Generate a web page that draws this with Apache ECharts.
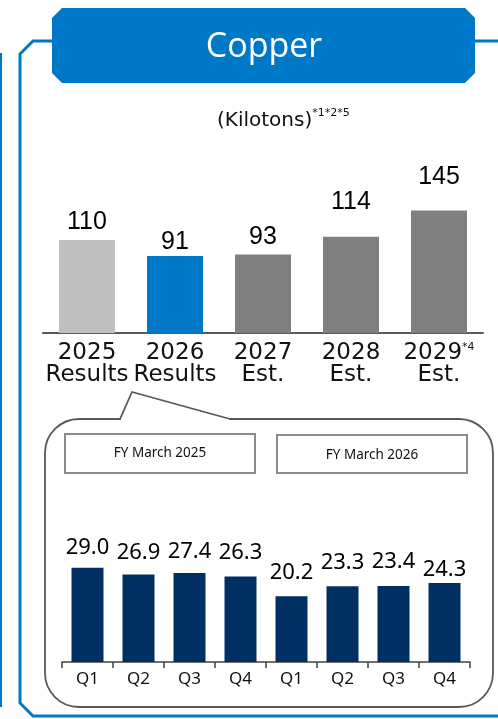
<!DOCTYPE html>
<html>
<head>
<meta charset="utf-8">
<script src="https://cdn.jsdelivr.net/npm/echarts@6/dist/echarts.min.js"></script>
<style>html,body{margin:0;padding:0;background:#fff}#c{width:498px;height:719px}</style>
</head>
<body>
<div id="c"></div>
<script>
// ---- data ----
const annualYears = ['2025', '2026', '2027', '2028', '2029'];
const annualSub = ['Results', 'Results', 'Est.', 'Est.', 'Est.'];
const annualNote = ['', '', '', '', '*4'];
const annualValues = [110, 91, 93, 114, 145];
const quarterLabels = ['Q1', 'Q2', 'Q3', 'Q4', 'Q1', 'Q2', 'Q3', 'Q4'];
const quarterValues = [29.0, 26.9, 27.4, 26.3, 20.2, 23.3, 23.4, 24.3];
const fyLabels = ['FY March 2025', 'FY March 2026'];
const titleText = 'Copper';
const unitText = '(Kilotons)';
const unitNote = '*1*2*5';

// ---- styles ----
const BLUE = '#0078C8';
const annualColors = ['#BFBFBF', '#0078C8', '#808080', '#808080', '#808080'];
const annualGap = [5, 1, 5, 22, 21];
const quarterGap = [9, 11, 10, 13, 13, 13, 13, 2];
const NAVY = '#002F63';

const chart = echarts.init(document.getElementById('c'), null, {renderer: 'canvas'});

const annualCats = annualYears.map((y, i) =>
  '{a|' + y + '}' + (annualNote[i] ? '{s|' + annualNote[i] + '}' : '') + '\n{a|' + annualSub[i] + '}');

const option = {
  animation: false,
  backgroundColor: '#fff',
  grid: [
    {left: 43, width: 440, top: 164, height: 169, outerBoundsMode: 'none'},
    {left: 62, width: 408, top: 532, height: 130, outerBoundsMode: 'none'}
  ],
  xAxis: [
    {
      gridIndex: 0, type: 'category', data: annualCats, z: 4,
      axisLine: {lineStyle: {color: '#595959', width: 2}},
      axisTick: {show: false},
      axisLabel: {
        interval: 0, margin: 9, color: '#111',
        rich: {
          a: {fontFamily: 'DejaVu Sans', fontSize: 23, lineHeight: 22, color: '#111'},
          s: {fontFamily: 'DejaVu Sans', fontSize: 11, lineHeight: 22, verticalAlign: 'top', padding: [0, 0, 12, 0], color: '#111'}
        }
      }
    },
    {
      gridIndex: 1, type: 'category', data: quarterLabels, z: 4,
      axisLine: {lineStyle: {color: '#404040', width: 1.5}},
      axisTick: {show: true, length: 6, lineStyle: {color: '#404040', width: 1.5}},
      axisLabel: {interval: 0, margin: 9, fontFamily: 'Noto Sans', fontSize: 17, color: '#111'}
    }
  ],
  yAxis: [
    {gridIndex: 0, type: 'value', min: 0, max: 200, show: false, splitLine: {show: false}},
    {gridIndex: 1, type: 'value', min: 0, max: 40, show: false, splitLine: {show: false}}
  ],
  series: [
    {
      type: 'bar', xAxisIndex: 0, yAxisIndex: 0, barWidth: 56, z: 5,
      data: annualValues.map((v, i) => ({
        value: v, itemStyle: {color: annualColors[i]},
        label: {distance: annualGap[i]}
      })),
      label: {show: true, position: 'top', fontFamily: 'Liberation Sans', fontSize: 25, color: '#000'}
    },
    {
      type: 'bar', xAxisIndex: 1, yAxisIndex: 1, barWidth: 32, z: 5,
      itemStyle: {color: NAVY},
      data: quarterValues.map((v, i) => ({
        value: v, label: {distance: quarterGap[i]}
      })),
      label: {show: true, position: 'top', fontFamily: 'Noto Sans', fontSize: 22, color: '#000',
        formatter: p => p.value.toFixed(1)}
    }
  ],
  graphic: [
    // far-left edge line
    {type: 'line', z: 1, shape: {x1: 1, y1: 53, x2: 1, y2: 707}, style: {stroke: BLUE, lineWidth: 2}},
    // frame
    {type: 'polyline', z: 1, shape: {points: [[53, 41], [33, 41], [20, 54], [20, 703], [33, 716], [498, 716]]},
      style: {stroke: BLUE, lineWidth: 3, fill: null}},
    {type: 'line', z: 1, shape: {x1: 474, y1: 41, x2: 498, y2: 41}, style: {stroke: BLUE, lineWidth: 3}},
    // header
    {type: 'polygon', z: 2, shape: {points: [[62, 8], [465, 8], [475, 18], [475, 73], [465, 83], [62, 83], [52, 73], [52, 18]]},
      style: {fill: BLUE}},
    {type: 'text', z: 3, x: 264, y: 47, style: {text: titleText, fill: '#fff', font: '34px "Open Sans"', textAlign: 'center', textVerticalAlign: 'middle'}},
    // unit
    {type: 'text', z: 3, x: 217, y: 121, style: {
      text: '{m|' + unitText + '}{s|' + unitNote + '}', textVerticalAlign: 'middle',
      rich: {
        m: {fontFamily: 'DejaVu Sans', fontSize: 20, fill: '#111', lineHeight: 24},
        s: {fontFamily: 'DejaVu Sans', fontSize: 11, fill: '#111', lineHeight: 24, padding: [0, 0, 16, 0]}
      }
    }},
    // callout body
    {type: 'rect', z: 1, shape: {x: 45, y: 419, width: 448, height: 288, r: 34},
      style: {fill: null, stroke: '#595959', lineWidth: 1.8}},
    {type: 'line', z: 2, shape: {x1: 121, y1: 419, x2: 229, y2: 419}, style: {stroke: '#fff', lineWidth: 4}},
    {type: 'polyline', z: 2, shape: {points: [[120, 419], [132, 392], [230, 419]]},
      style: {stroke: '#595959', lineWidth: 1.8, fill: null}},
    // FY boxes
    {type: 'rect', z: 2, shape: {x: 65, y: 434, width: 190, height: 39}, style: {fill: '#fff', stroke: '#8C8C8C', lineWidth: 2}},
    {type: 'text', z: 3, x: 160, y: 453, style: {text: fyLabels[0], fill: '#111', font: '13.5px "Noto Sans"', textAlign: 'center', textVerticalAlign: 'middle'}},
    {type: 'rect', z: 2, shape: {x: 277, y: 435, width: 190, height: 38}, style: {fill: '#fff', stroke: '#8C8C8C', lineWidth: 2}},
    {type: 'text', z: 3, x: 372, y: 455, style: {text: fyLabels[1], fill: '#111', font: '13.5px "Noto Sans"', textAlign: 'center', textVerticalAlign: 'middle'}}
  ]
};
chart.setOption(option);
</script>
</body>
</html>
